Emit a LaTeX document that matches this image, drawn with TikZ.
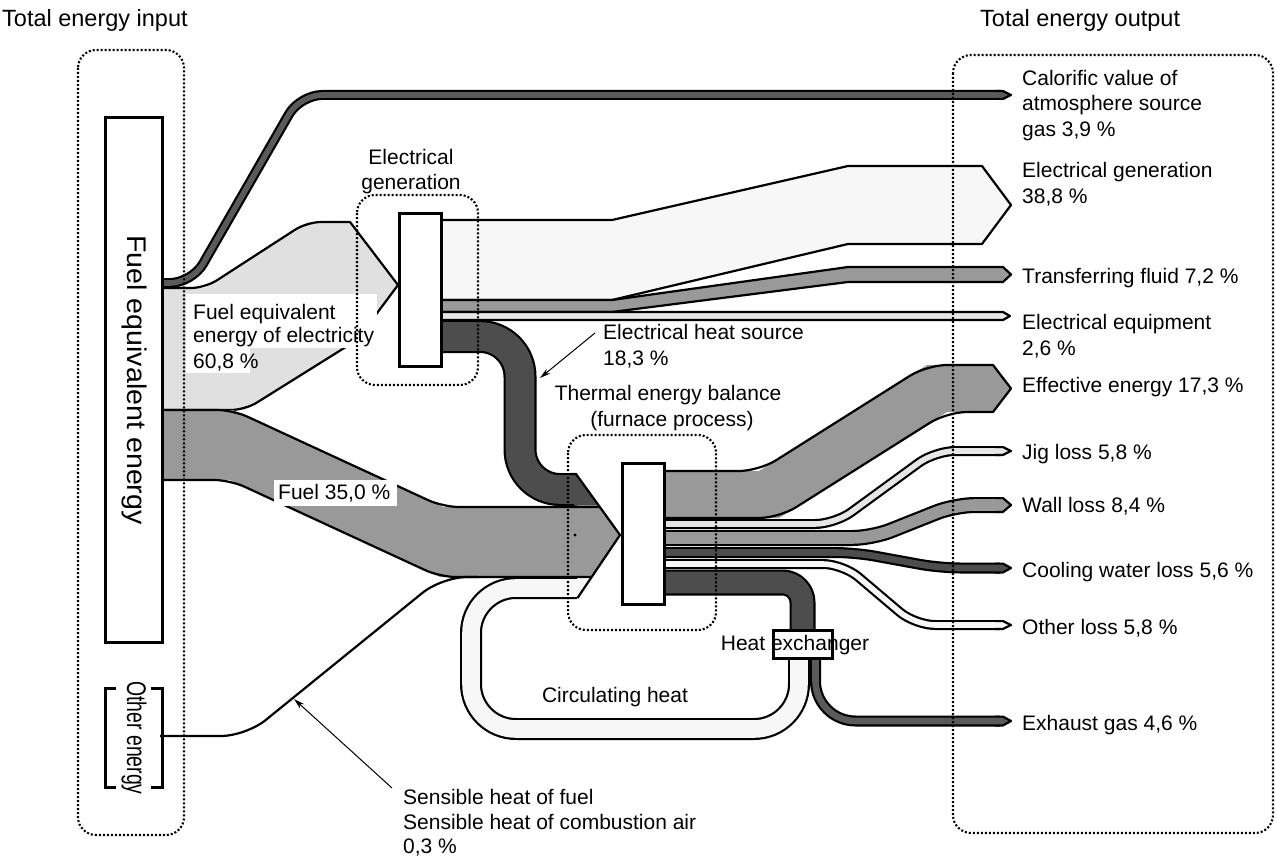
\documentclass[tikz,border=0pt]{standalone}
\usepackage{fontspec}
\setmainfont{Liberation Sans}
\usetikzlibrary{arrows.meta}
\definecolor{cdark}{HTML}{4D4D4D}
\definecolor{ccal}{HTML}{5A5A5A}
\definecolor{cmid}{HTML}{999999}
\definecolor{clight}{HTML}{E0E0E0}
\definecolor{cpale}{HTML}{F7F7F7}
\definecolor{cjig}{HTML}{E6E6E6}
\tikzset{
  outl/.style={draw=black, line width=2.2pt, line join=round},
  txt/.style={font=\fontsize{21}{25}\selectfont, inner sep=0pt},
  ttl/.style={font=\fontsize{23.5}{28}\selectfont, inner sep=0pt},
  dotbox/.style={draw, line width=2.1pt, dash pattern=on 2pt off 2pt, rounded corners=18pt},
  boxst/.style={draw, fill=white, line width=3pt},
  lblarrow/.style={draw, line width=1pt, -{Stealth[length=11pt, width=6pt]}}
}
\newcommand\sband[4]{%
  \draw[line width=#2pt, black, rounded corners=#3pt] #4;
  \draw[line width=#2pt-4.4pt, #1, rounded corners=#3pt] #4;}
\newcommand\tipat[3]{%
  \path[fill=#1, draw=black, line width=2.2pt, line join=round]
    (995,#3-#2/2+1.1) -- (1003,#3-#2/2+1.1) -- (1011,#3) -- (1003,#3+#2/2-1.1) -- (995,#3+#2/2-1.1);}
\begin{document}
\begin{tikzpicture}[x=1pt, y=-1pt]
\useasboundingbox (0,0) rectangle (1277,856);

% --- fuel equivalent energy of electricity (light band)
\fill[clight] (160,288) -- (205,288) -- (307,222) -- (350,222) -- (398,285) -- (357,340) -- (245,410) -- (160,410) -- cycle;
\draw[outl, rounded corners=14pt] (160,288) -- (205,288) -- (307,222) -- (332,222);
\draw[outl] (332,222) -- (350,222) -- (398,285);
\draw[outl, rounded corners=14pt] (398,285) -- (357,340) -- (245,410) -- (160,410);

% --- calorific value band
\sband{ccal}{10}{22}{(160,283) -- (192,283) -- (300,95) -- (1000,95)}
\tipat{ccal}{10}{95}

% --- fuel band
\fill[cmid] (160,410) -- (233,410) -- (443,507) -- (599.8,507) -- (620,535) -- (591.7,577) -- (440,577) -- (230,480) -- (160,480) -- cycle;
\draw[outl, rounded corners=16pt] (160,410) -- (233,410) -- (443,507) -- (599.8,507);
\draw[outl, rounded corners=16pt] (591.7,577) -- (440,577) -- (230,480) -- (160,480);

% --- outputs of electrical generation
\filldraw[outl, fill=cpale] (438,220) -- (612,220) -- (848,166) -- (982,166) -- (1011,205) -- (982,244) -- (848,244) -- (612,300) -- (438,300) -- cycle;
\filldraw[outl, fill=cmid] (438,300) -- (612,300) -- (848,267) -- (1003,267) -- (1011,274.5) -- (1003,282) -- (848,282) -- (612,312) -- (438,312) -- cycle;
\filldraw[outl, fill=cjig] (438,312) -- (1003,312) -- (1010,316) -- (1003,320) -- (438,320) -- cycle;

% --- electrical heat source (dark)
\sband{cdark}{33}{40}{(438,336.5) -- (520,336.5) -- (520,489.5) -- (577,489.5)}
\fill[cdark] (574,475.2) -- (576.8,475.2) -- (598.9,505.7) -- (574,505.7) -- cycle;

% --- circulating heat loop
\sband{cpale}{22}{45}{(577,588) -- (471,588) -- (471,729) -- (799,729) -- (799,660)}
\fill[cpale] (574,579.2) -- (590.2,579.2) -- (578.3,596.8) -- (574,596.8) -- cycle;

% --- sensible heat line
\draw[outl, rounded corners=25pt] (160,736) -- (246,736) -- (442,577) -- (478,577);

% --- furnace input outline
\draw[outl] (570,474) -- (576,474) -- (620,535) -- (577.5,598);

% --- effective energy
\fill[cmid] (660,471) -- (759,471) -- (927,365) -- (993,365) -- (1011,388.5) -- (993,412) -- (947,412) -- (779,518) -- (660,518) -- cycle;
\draw[outl, rounded corners=20pt] (660,471) -- (759,471) -- (927,365) -- (975,365);
\draw[outl] (975,365) -- (993,365) -- (1011,388.5) -- (993,412) -- (975,412);
\draw[outl, rounded corners=20pt] (975,412) -- (947,412) -- (779,518) -- (660,518);

% --- losses
\sband{cjig}{10}{20}{(660,524) -- (835,524) -- (935,451) -- (1000,451)}
\tipat{cjig}{10}{451}
\sband{cmid}{16}{20}{(660,538) -- (872,538) -- (955,505) -- (1000,505)}
\tipat{cmid}{16}{505}
\sband{cdark}{11}{20}{(660,552.5) -- (855,552.5) -- (940,568) -- (1000,568)}
\tipat{cdark}{11}{568}
\sband{cpale}{10}{20}{(660,564) -- (843,564) -- (915,625) -- (1000,625)}
\tipat{cpale}{10}{625}
\sband{cdark}{26}{20}{(660,582.5) -- (802.5,582.5) -- (802.5,632)}
\sband{ccal}{11}{40}{(815.5,656) -- (815.5,721) -- (1000,721)}
\tipat{ccal}{11}{721}

% --- boxes
\draw[boxst] (105,118) rectangle (162,642);
\draw[line width=3pt] (116,688) -- (105,688) -- (105,787) -- (116,787);
\draw[line width=3pt] (151,688) -- (162,688) -- (162,787) -- (151,787);
\draw[boxst] (399,213) rectangle (441,366);
\draw[boxst] (622,463) rectangle (664,604);
\draw[boxst] (773,630) rectangle (832,658);
\fill (575,535) circle (1.6pt);

% --- label backgrounds
\fill[white] (186,294) rectangle (377,348);
\fill[white] (186,348) rectangle (250,373);
\fill[white] (274,480) rectangle (397,506);

% --- texts
\node[ttl, anchor=base west] (tin) at (2,27) {Total energy input};
\node[ttl, anchor=base west] (tout) at (980,27) {Total energy output};
\node[txt, rotate=-90, font=\fontsize{27}{30}\selectfont] (fee) at (134,380) {\scalebox{1.06}[1]{Fuel equivalent energy}};
\node[txt, rotate=-90, font=\fontsize{27}{30}\selectfont] (oe) at (134,738) {\scalebox{0.72}[1]{Other energy}};

\node[txt, anchor=base west] (a1) at (1022,85.5) {Calorific value of};
\node[txt, anchor=base west] (a2) at (1022,111) {atmosphere source};
\node[txt, anchor=base west] (a3) at (1022,136.5) {gas 3,9 \%};
\node[txt, anchor=base west] (b1) at (1022,177.5) {Electrical generation};
\node[txt, anchor=base west] (b2) at (1022,203) {38,8 \%};
\node[txt, anchor=base west] (c1) at (1022,283.5) {Transferring fluid 7,2 \%};
\node[txt, anchor=base west] (d1) at (1022,329.5) {Electrical equipment};
\node[txt, anchor=base west] (d2) at (1022,355) {2,6 \%};
\node[txt, anchor=base west] (e1) at (1022,392.5) {Effective energy 17,3 \%};
\node[txt, anchor=base west] (f1) at (1022,459.5) {Jig loss 5,8 \%};
\node[txt, anchor=base west] (g1) at (1022,512.5) {Wall loss 8,4 \%};
\node[txt, anchor=base west] (h1) at (1022,577.5) {Cooling water loss 5,6 \%};
\node[txt, anchor=base west] (i1) at (1022,634.5) {Other loss 5,8 \%};
\node[txt, anchor=base west] (j1) at (1022,730.5) {Exhaust gas 4,6 \%};

\node[txt, anchor=base] (eg1) at (411,164.5) {Electrical};
\node[txt, anchor=base] (eg2) at (411,189.5) {generation};
\node[txt, anchor=base west] (fq1) at (193,319.5) {Fuel equivalent};
\node[txt, anchor=base west] (fq2) at (193,342.5) {energy of electricity};
\node[txt, anchor=base west] (fq3) at (193,368) {60,8 \%};
\node[txt, anchor=base west] (fu) at (278,499.5) {Fuel 35,0 \%};
\node[txt, anchor=base west] (eh1) at (603,339.5) {Electrical heat source};
\node[txt, anchor=base west] (eh2) at (603,365) {18,3 \%};
\node[txt, anchor=base] (tb1) at (668,400.5) {Thermal energy balance};
\node[txt, anchor=base] (tb2) at (672,426) {(furnace process)};
\node[txt, anchor=base] (ch) at (615,702.5) {Circulating heat};
\node[txt, anchor=base] (hx) at (795,650.5) {Heat exchanger};
\node[txt, anchor=base west] (s1) at (403,804.5) {Sensible heat of fuel};
\node[txt, anchor=base west] (s2) at (403,829.5) {Sensible heat of combustion air};
\node[txt, anchor=base west] (s3) at (403,853) {0,3 \%};

% --- dotted boxes
\draw[dotbox] (78,50) rectangle (184,835);
\draw[dotbox] (953,55) rectangle (1273,833);
\draw[dotbox] (357,195) rectangle (478,385);
\draw[dotbox] (568,435) rectangle (716,630);

% --- label arrows
\coordinate (ehA) at (595,333);
\coordinate (ehB) at (540,378);
\coordinate (shA) at (392,788);
\coordinate (shB) at (294,699);
\draw[lblarrow] (ehA) -- (ehB);
\draw[lblarrow] (shA) -- (shB);
\end{tikzpicture}
\end{document}
